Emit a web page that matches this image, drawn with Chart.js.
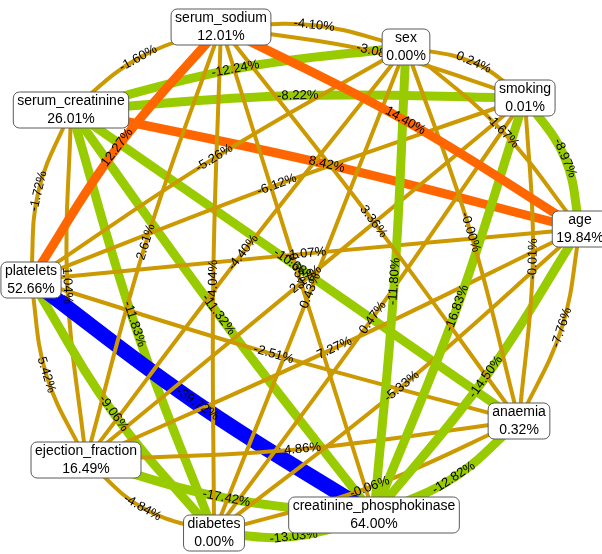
<!DOCTYPE html>
<html>
<head>
<meta charset="utf-8">
<script src="https://cdn.jsdelivr.net/npm/chart.js@4/dist/chart.umd.min.js"></script>
<style>
  html, body { margin: 0; padding: 0; background: #ffffff; }
  canvas { display: block; }
</style>
</head>
<body>
<canvas id="net" width="602" height="554"></canvas>
<script>
// Variables (nodes) with their share of importance
const nodeNames = ['serum_sodium', 'sex', 'smoking', 'age', 'anaemia',
  'creatinine_phosphokinase', 'diabetes', 'ejection_fraction', 'platelets', 'serum_creatinine'];
const nodeShare = [12.01, 0.00, 0.01, 19.84, 0.32, 64.00, 0.00, 16.49, 52.66, 26.01];

// Network layout coordinates (layout units, y up)
const layoutX = [-84, 101, 220, 275, 214, 69, -91, -219, -274, -234];
const layoutY = [253, 233, 182, 51, -141, -235, -253, -180, 0, 170];

// Pairwise links and their weights in percent
const edgeFrom = [
  'serum_sodium', 'serum_sodium', 'serum_sodium', 'serum_sodium', 'serum_sodium',
  'serum_sodium', 'serum_sodium', 'serum_sodium', 'serum_sodium',
  'sex', 'sex', 'sex', 'sex', 'sex', 'sex', 'sex', 'sex',
  'smoking', 'smoking', 'smoking', 'smoking', 'smoking', 'smoking', 'smoking',
  'age', 'age', 'age', 'age', 'age', 'age',
  'anaemia', 'anaemia', 'anaemia', 'anaemia', 'anaemia',
  'creatinine_phosphokinase', 'creatinine_phosphokinase', 'creatinine_phosphokinase', 'creatinine_phosphokinase',
  'diabetes', 'diabetes', 'diabetes',
  'ejection_fraction', 'ejection_fraction',
  'platelets'
];
const edgeTo = [
  'serum_creatinine', 'sex', 'smoking', 'age', 'anaemia',
  'creatinine_phosphokinase', 'diabetes', 'ejection_fraction', 'platelets',
  'smoking', 'age', 'anaemia', 'creatinine_phosphokinase', 'diabetes', 'ejection_fraction', 'platelets', 'serum_creatinine',
  'age', 'anaemia', 'creatinine_phosphokinase', 'diabetes', 'ejection_fraction', 'platelets', 'serum_creatinine',
  'anaemia', 'creatinine_phosphokinase', 'diabetes', 'ejection_fraction', 'platelets', 'serum_creatinine',
  'creatinine_phosphokinase', 'diabetes', 'ejection_fraction', 'platelets', 'serum_creatinine',
  'diabetes', 'ejection_fraction', 'platelets', 'serum_creatinine',
  'ejection_fraction', 'platelets', 'serum_creatinine',
  'platelets', 'serum_creatinine',
  'serum_creatinine'
];
const edgeValue = [
  -1.60, -4.10, -3.08, 14.40, 3.36,
  0.35, -4.04, 2.61, 12.27,
  0.24, -1.67, -0.004, -11.80, 0.43, -4.40, -5.26, -12.24,
  -8.97, -0.01, -16.83, 0.47, 2.17, -6.12, -8.22,
  -7.76, -14.50, -5.33, 7.27, -1.07, 8.42,
  -12.82, -0.06, 4.86, -2.51, -10.68,
  -13.03, -17.42, -39.72, -11.32,
  -4.84, -9.06, -11.83,
  5.42, 1.04,
  -1.72
];

function edgeColor(v) {
  if (v <= -20) return '#0000ff';
  if (v <= -8) return '#99cc00';
  if (v >= 8) return '#ff6600';
  return '#cc9900';
}
function edgeWidth(v) {
  const a = Math.abs(v);
  return a >= 20 ? 15 : (a >= 8 ? 9 : 4);
}
function pct(v) {
  return (v < 0 ? '-' : '') + Math.abs(v).toFixed(2) + '%';
}

// links bow gently away from the centre of the layout
const BOW = 0.05;
const cx0 = layoutX.reduce((s, v) => s + v, 0) / layoutX.length;
const cy0 = layoutY.reduce((s, v) => s + v, 0) / layoutY.length;
function linkMid(a, b) {
  const mx = (layoutX[a] + layoutX[b]) / 2, my = (layoutY[a] + layoutY[b]) / 2;
  return { x: mx + BOW * (mx - cx0), y: my + BOW * (my - cy0) };
}

const datasets = edgeValue.map((v, i) => {
  const a = nodeNames.indexOf(edgeFrom[i]);
  const b = nodeNames.indexOf(edgeTo[i]);
  return {
    label: edgeFrom[i] + ' - ' + edgeTo[i],
    data: [{ x: layoutX[a], y: layoutY[a] }, linkMid(a, b), { x: layoutX[b], y: layoutY[b] }],
    showLine: true,
    borderColor: edgeColor(v),
    borderWidth: edgeWidth(v),
    borderCapStyle: 'butt',
    pointRadius: 0,
    pointHoverRadius: 0,
    fill: false,
    tension: 0.4,
    clip: false
  };
});

const networkLabels = {
  id: 'networkLabels',
  afterDatasetsDraw(chart) {
    const ctx = chart.ctx;
    const xs = chart.scales.x, ys = chart.scales.y;
    const px = v => xs.getPixelForValue(v);
    const py = v => ys.getPixelForValue(v);

    // link labels, turned along each link
    ctx.save();
    ctx.font = '13px "Liberation Sans", Arial, sans-serif';
    ctx.fillStyle = '#000000';
    ctx.textAlign = 'center';
    ctx.textBaseline = 'middle';
    edgeValue.forEach((v, i) => {
      const a = nodeNames.indexOf(edgeFrom[i]);
      const b = nodeNames.indexOf(edgeTo[i]);
      const x1 = px(layoutX[a]), y1 = py(layoutY[a]);
      const x2 = px(layoutX[b]), y2 = py(layoutY[b]);
      const m = linkMid(a, b);
      let ang = Math.atan2(y2 - y1, x2 - x1);
      if (ang > Math.PI / 2) ang -= Math.PI;
      else if (ang < -Math.PI / 2) ang += Math.PI;
      ctx.save();
      ctx.translate(px(m.x), py(m.y));
      ctx.rotate(ang);
      ctx.fillText(pct(v), 0, 0);
      ctx.restore();
    });
    ctx.restore();

    // node boxes
    ctx.save();
    ctx.font = '14px "Liberation Sans", Arial, sans-serif';
    ctx.textAlign = 'center';
    ctx.textBaseline = 'middle';
    nodeNames.forEach((name, i) => {
      const cx = px(layoutX[i]), cy = py(layoutY[i]);
      const share = nodeShare[i].toFixed(2) + '%';
      const w = Math.max(ctx.measureText(name).width, ctx.measureText(share).width) + 8;
      const h = 36;
      ctx.beginPath();
      ctx.roundRect(cx - w / 2, cy - h / 2, w, h, 6);
      ctx.fillStyle = '#ffffff';
      ctx.fill();
      ctx.lineWidth = 1;
      ctx.strokeStyle = '#5a5a5a';
      ctx.stroke();
      ctx.fillStyle = '#000000';
      ctx.fillText(name, cx, cy - 8.5);
      ctx.fillText(share, cx, cy + 9);
    });
    ctx.restore();
  }
};

new Chart(document.getElementById('net'), {
  type: 'scatter',
  data: { datasets },
  options: {
    responsive: false,
    animation: false,
    events: [],
    layout: { padding: 0 },
    scales: {
      x: { type: 'linear', display: false, min: -305, max: 297 },
      y: { type: 'linear', display: false, min: -274, max: 280 }
    },
    plugins: {
      legend: { display: false },
      tooltip: { enabled: false },
      title: { display: false }
    }
  },
  plugins: [networkLabels]
});
</script>
</body>
</html>
